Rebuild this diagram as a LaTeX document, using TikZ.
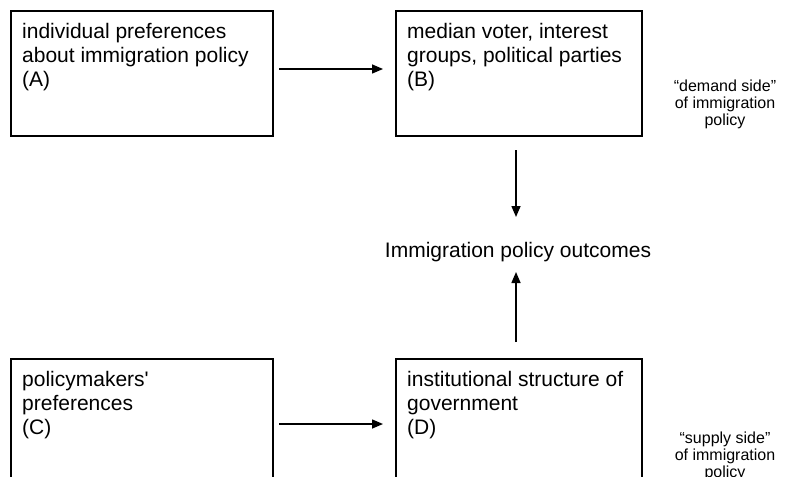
\documentclass[tikz,border=0pt]{standalone}
\usepackage{fontspec}
\setmainfont{Liberation Sans}
\usetikzlibrary{arrows.meta}
\begin{document}
\begin{tikzpicture}[x=1pt,y=-1pt,
  box/.style={draw, line width=2pt, anchor=north west, inner sep=0pt},
  boxtext/.style={anchor=north west, inner sep=0pt, align=left, font=\fontsize{21}{24}\selectfont},
  sidetext/.style={inner sep=0pt, align=center, font=\fontsize{16}{17}\selectfont},
  arr/.style={line width=1.5pt, -{Triangle[length=11pt,width=9pt]}}]
\useasboundingbox (0,0) rectangle (802,476);
\fill[white] (0,0) rectangle (802,476);
\clip (0,0) rectangle (802,476);

\node[box, minimum width=262pt, minimum height=125pt] (A) at (10,10) {};
\node[box, minimum width=246pt, minimum height=125pt] (B) at (395,10) {};
\node[box, minimum width=262pt, minimum height=140pt] (C) at (10,358) {};
\node[box, minimum width=246pt, minimum height=140pt] (D) at (395,358) {};

\node[boxtext] (At) at (22,23) {individual preferences\\about immigration policy\\(A)};
\node[boxtext] (Bt) at (407,23) {median voter, interest\\groups, political parties\\(B)};
\node[boxtext] (Ct) at (22,371) {policymakers\textquotesingle\\preferences\\(C)};
\node[boxtext] (Dt) at (407,371) {institutional structure of\\government\\(D)};

\node[sidetext] (Sd) at (725,104) {“demand side”\\of immigration\\policy};
\node[sidetext] (Ss) at (725,456) {“supply side”\\of immigration\\policy};

\node[inner sep=0pt, font=\fontsize{21}{24}\selectfont] (O) at (518,252) {Immigration policy outcomes};

\draw[arr] ([shift={(5,-4.5)}]A.east) -- ([shift={(-12,-4.5)}]B.west);
\draw[arr] ([shift={(5,-5)}]C.east) -- ([shift={(-12,-5)}]D.west);
\draw[arr] ([shift={(-3,13)}]B.south) -- ([shift={(-2,-35)}]O.center);
\draw[arr] ([shift={(-3,-16)}]D.north) -- ([shift={(-2,20)}]O.center);
\end{tikzpicture}
\end{document}
